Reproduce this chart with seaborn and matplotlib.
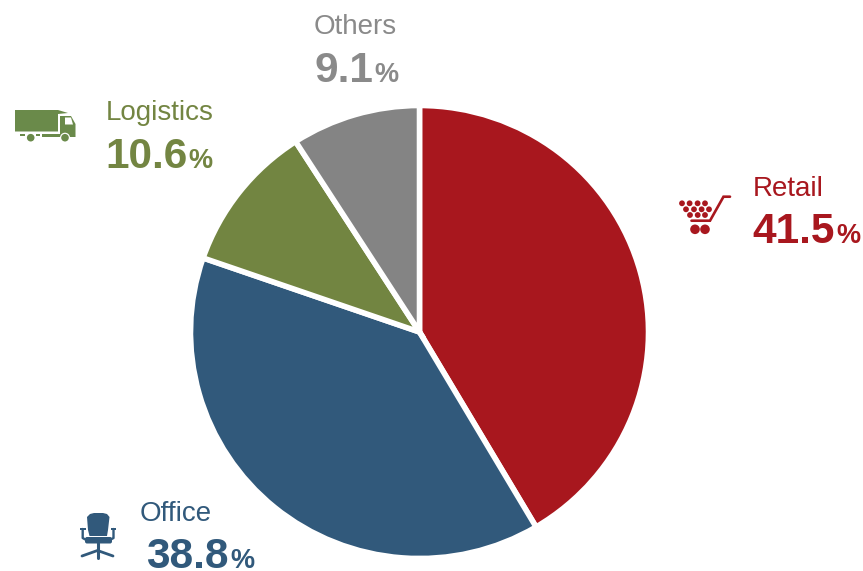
import matplotlib
matplotlib.use("Agg")
import matplotlib.pyplot as plt
import seaborn as sns
from matplotlib.patches import Circle, Polygon, Rectangle, FancyBboxPatch

sns.set_theme(style="white")
plt.rcParams["font.family"] = ["Liberation Sans", "DejaVu Sans"]

categories = ["Retail", "Office", "Logistics", "Others"]
shares = [41.5, 38.8, 10.6, 9.1]
slice_colors = ["#A8171E", "#31597B", "#728541", "#848484"]
text_colors = ["#A8171E", "#31597B", "#738542", "#8A8A8A"]

W, H = 863, 571
CX, CY, RX, RY = 419.5, 332.0, 229.0, 226.5

fig = plt.figure(figsize=(W / 100, H / 100), dpi=100, facecolor="white")

# Pie axes around the pie centre, in figure fractions
pie_ax = fig.add_axes([(CX - RX) / W, 1 - (CY + RY) / H, 2 * RX / W, 2 * RY / H])
pie_ax.pie(
    shares,
    colors=slice_colors,
    startangle=90,
    counterclock=False,
    radius=1,
    wedgeprops={"edgecolor": "white", "linewidth": 4.0},
)
pie_ax.set_xlim(-1, 1)
pie_ax.set_ylim(-1, 1)
pie_ax.set_aspect("auto")

# Overlay in pixel units for the labels and icons
ov = fig.add_axes([0, 0, 1, 1], zorder=5)
ov.set_xlim(0, W)
ov.set_ylim(H, 0)
ov.axis("off")
ov.patch.set_alpha(0)

# name x, name baseline, value x, value baseline, percent x
label_slots = {
    "Retail": (753, 196, 752, 243, 836),
    "Office": (140, 521, 146, 568.5, 230),
    "Logistics": (106, 120, 105, 168, 188),
    "Others": (314, 34, 314, 82, 374),
}

for name, value, color in zip(categories, shares, text_colors):
    nx, ny, vx, vy, px = label_slots[name]
    ov.text(nx, ny, name, color=color, fontsize=20, va="baseline", ha="left")
    ov.text(vx, vy, f"{value:.1f}", color=color, fontsize=30.5,
            fontweight="bold", va="baseline", ha="left")
    ov.text(px, vy, "%", color=color, fontsize=19.5,
            fontweight="bold", va="baseline", ha="left")

# Shopping cart
red = text_colors[0]
for y, xs in [(203.3, [682, 689.6, 697.6, 705]),
              (209.3, [686, 694, 701.6, 709]),
              (215, [690, 697.7, 705])]:
    for x in xs:
        ov.add_patch(Circle((x, y), 2.9, color=red, lw=0))
for x in (695, 705):
    ov.add_patch(Circle((x, 229.3), 4.8, color=red, lw=0))
ov.plot([730, 723.5, 710, 691.5], [196.7, 196.7, 220.7, 220.7],
        color=red, lw=1.9, solid_joinstyle="miter")

# Delivery truck
green = "#6A8A4A"
ov.add_patch(Polygon([(15, 110), (58, 110), (68, 113), (58, 114), (58, 131.5), (15, 131.5)],
                     closed=True, color=green, lw=0))
ov.add_patch(Polygon([(60, 116), (71, 116), (75.5, 124), (75.5, 137), (60, 137)],
                     closed=True, color=green, lw=0))
ov.add_patch(Polygon([(65, 117.5), (71, 117.5), (73, 124.5), (65, 124.5)],
                     closed=True, color="white", lw=0))
ov.add_patch(Rectangle((42, 133.5), 18, 3, color=green, lw=0))
ov.add_patch(Rectangle((20, 134), 5, 2, color=green, lw=0))
ov.add_patch(Rectangle((36, 134), 4, 2, color=green, lw=0))
for x in (30.7, 65):
    ov.add_patch(Circle((x, 137.7), 5.0, color="white", lw=0))
    ov.add_patch(Circle((x, 137.7), 3.8, color=green, lw=0))

# Office chair
blue = text_colors[1]
ov.add_patch(Polygon([(87, 517), (90, 514), (94, 513), (103, 513), (107, 514), (109.5, 517),
                      (108, 530), (107, 536), (89.5, 536), (88, 530)],
                     closed=True, color=blue, lw=0))
ov.add_patch(FancyBboxPatch((87, 539), 23, 2.5, boxstyle="round,pad=2", color=blue, lw=0))
ov.plot([82.7, 82.7, 88], [529, 538, 541], color=blue, lw=1.7)
ov.plot([113.5, 113.5, 108], [529, 538, 541], color=blue, lw=1.7)
ov.add_patch(Rectangle((80, 527.5), 5.5, 2.8, color=blue, lw=0))
ov.add_patch(Rectangle((110.8, 527.5), 5.5, 2.8, color=blue, lw=0))
ov.plot([97.5, 97.5], [543, 558], color=blue, lw=2.2)
ov.plot([82, 97.5, 113], [556, 550.5, 556], color=blue, lw=2.0)

fig.savefig("out.png", dpi=100, facecolor="white")
